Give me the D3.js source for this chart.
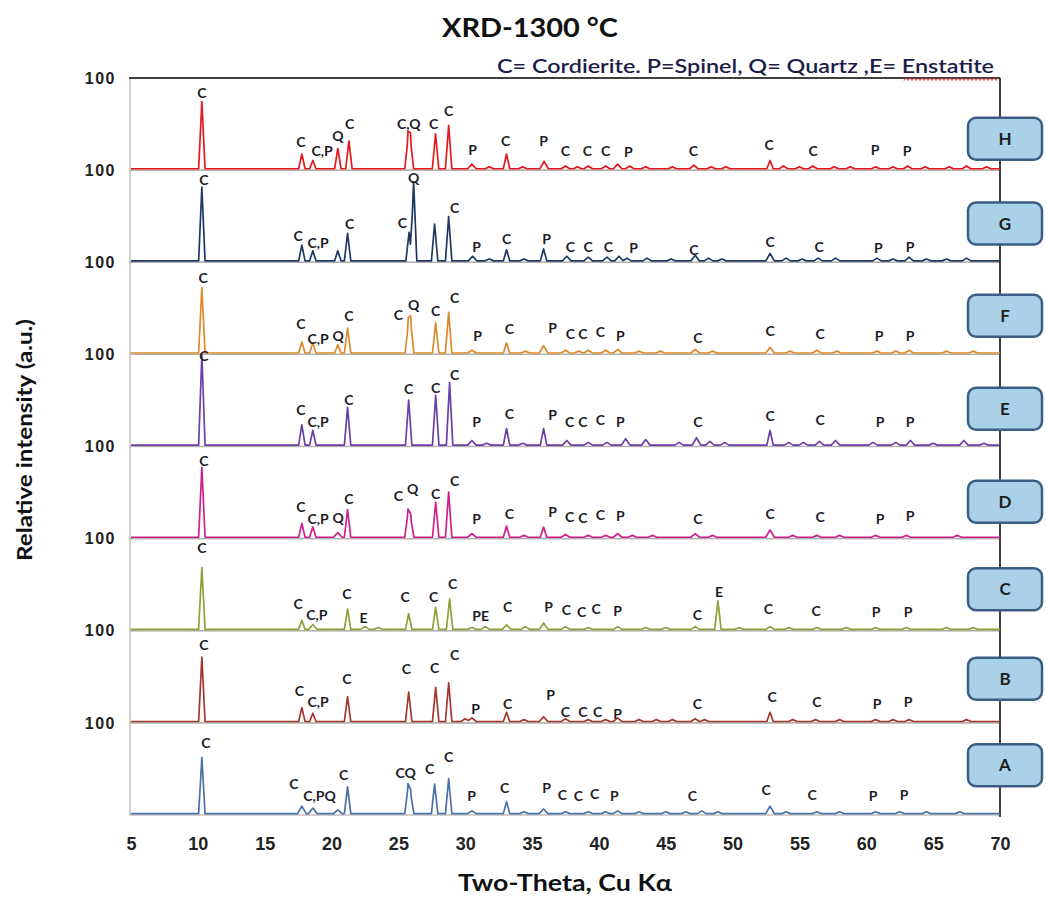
<!DOCTYPE html>
<html lang="en">
<head>
<meta charset="UTF-8">
<title>XRD-1300 °C</title>
<script src="https://d3js.org/d3.v7.min.js"></script>
<style>
  body { margin: 0; background: #fff; }
  svg { font-family: Lato, "Open Sans", "Liberation Sans", sans-serif; }
  .peak-label { font-size: 14px; font-weight: bold; fill: #1c1c28; text-anchor: middle; }
  .tick text { font-weight: bold; fill: #222; }
  .box-label { font-size: 17px; font-weight: bold; fill: #1e1e1e; text-anchor: middle; }
</style>
</head>
<body>
<svg width="1046" height="897"></svg>
<script>
// samples from top to bottom
const samples = ["H", "G", "F", "E", "D", "C", "B", "A"];
const sampleColors = ["#e3191f", "#1f3864", "#dc8a2c", "#6a3fa6", "#cf1f8c", "#8ba23a", "#a3362f", "#4a72a8"];
const xTicks = [5, 10, 15, 20, 25, 30, 35, 40, 45, 50, 55, 60, 65, 70];

// peaks: [2theta, relative intensity]
const peaksH = [[10.3, 73], [17.78, 16], [18.6, 9], [20.47, 22], [21.3, 30], [25.72, 33], [25.9, 31], [27.78, 38], [28.76, 47],
  [30.5, 5], [31.8, 2], [33.09, 16], [34.3, 2], [35.9, 8], [37.5, 3], [38.4, 2], [39.2, 3], [40.5, 3], [41.4, 5], [42.3, 3],
  [43.5, 2], [45.5, 2], [47.1, 4], [48.4, 2], [49.5, 2], [52.8, 9], [53.8, 3], [55, 2], [56, 3], [57.6, 2], [58.8, 2],
  [60.7, 2], [62, 2], [63.1, 3], [64.4, 2], [66.2, 2], [67.5, 3], [69, 2]];
const peaksG = [[10.3, 80], [17.78, 17], [18.6, 11], [20.47, 11], [21.2, 30], [25.8, 31], [26.14, 86], [27.71, 40], [28.76, 48],
  [30.55, 5], [31.8, 2], [33.09, 12], [34.4, 2], [35.86, 13], [37.6, 5], [39.2, 4], [40.6, 4], [41.5, 5], [42.1, 3], [43.6, 3],
  [45.4, 2], [47.2, 6], [48.2, 3], [49.2, 2], [52.8, 8], [54, 3], [55.2, 2], [56.4, 3], [57.7, 3], [60.8, 3], [62, 2],
  [63.2, 4], [64.5, 2], [66, 2], [67.5, 3]];
const peaksF = [[10.3, 71], [17.78, 12], [18.6, 11], [20.47, 9], [21.2, 27], [25.74, 30], [25.92, 33], [27.79, 33], [28.76, 44],
  [30.5, 3], [33.09, 11], [34.5, 2], [35.86, 8], [37.5, 3], [38.5, 2], [39.2, 3], [40.5, 3], [41.4, 4], [43, 2], [44.6, 2],
  [47.2, 4], [48.5, 2], [52.8, 6], [54.3, 2], [56.3, 3], [57.8, 2], [60.8, 2], [62.2, 2], [63.2, 3], [66, 2], [68, 2]];
const peaksE = [[10.3, 98], [17.78, 22], [18.6, 16], [21.2, 41], [25.77, 49], [27.79, 54], [28.83, 68], [30.5, 5], [31.6, 2],
  [33.09, 18], [34.3, 2], [35.86, 18], [37.6, 5], [39.2, 3], [40.6, 3], [42.0, 7], [43.5, 6], [46.0, 3], [47.3, 8],
  [48.3, 4], [49.4, 3], [52.8, 16], [54.2, 3], [55.3, 3], [56.5, 4], [57.7, 5], [60.5, 3], [62.2, 3], [63.3, 5],
  [65, 2], [67.3, 5], [68.8, 2]];
const peaksD = [[10.3, 76], [17.78, 15], [18.6, 11], [20.47, 5], [21.2, 30], [25.72, 27], [25.92, 21], [27.79, 38], [28.76, 49],
  [30.5, 4], [33.09, 12], [34.4, 2], [35.86, 11], [37.5, 3], [39.2, 2], [40.5, 2], [41.4, 4], [42.5, 2], [44, 2],
  [47.2, 4], [48.5, 2], [52.8, 8], [54.5, 2], [56.3, 2], [58, 2], [60.7, 2], [63, 2], [66.8, 2]];
const peaksC = [[10.3, 67], [17.78, 10], [18.6, 5], [21.2, 22], [22.5, 3], [23.5, 2], [25.77, 17], [27.79, 24], [28.83, 33],
  [30.5, 2], [31.5, 3], [33.09, 5], [34.5, 3], [35.86, 7], [37.5, 3], [39.2, 2], [41.4, 3], [43.5, 2], [45, 2],
  [47.2, 3], [48.9, 31], [50.5, 2], [52.8, 3], [54.2, 2], [56.3, 2], [58.5, 2], [60.7, 2], [63, 2], [66, 2], [68, 2]];
const peaksB = [[10.3, 70], [17.78, 15], [18.6, 9], [21.2, 27], [25.77, 32], [27.79, 37], [28.76, 42], [30.0, 3], [30.5, 4],
  [33.09, 10], [34.4, 2], [35.86, 5], [37.5, 3], [39.2, 2], [40.5, 2], [41.4, 4], [43, 2], [44.3, 2], [45.5, 2],
  [47.2, 3], [47.9, 2], [52.8, 10], [54.5, 2], [56.2, 2], [58, 2], [60.7, 2], [62, 2], [63.2, 2], [67.5, 2]];
const peaksA = [[10.3, 61], [17.78, 8], [18.6, 6], [20.47, 4], [21.2, 29], [25.72, 29], [25.92, 21], [27.71, 32], [28.76, 38],
  [30.5, 3], [33.09, 13], [34.4, 2], [35.86, 5], [37.5, 2], [39.2, 2], [40.5, 2], [41.4, 3], [43, 2], [45, 2],
  [46.5, 2], [47.7, 3], [48.9, 2], [52.8, 8], [54, 2], [56.3, 2], [58, 2], [60.7, 2], [62.5, 2], [64.5, 2], [67, 2]];

// phase labels: [2theta, text, level]
const labelsH = [[10.3, "C", 84], [17.7, "C", 30], [19.3, "C,P", 21], [20.47, "Q", 37], [21.36, "C", 50], [25.77, "C,Q", 50],
  [27.64, "C", 50], [28.76, "C", 64], [30.55, "P", 22], [33.02, "C", 32], [35.86, "P", 32], [37.5, "C", 21], [39.14, "C", 21],
  [40.5, "C", 21], [42.2, "P", 20], [47.06, "C", 21], [52.74, "C", 27], [56.03, "C", 21], [60.66, "P", 22], [63.05, "P", 21]];
const labelsG = [[10.45, "C", 89], [17.5, "C", 28], [19.0, "C,P", 21], [21.36, "C", 41], [25.3, "C", 43], [26.14, "Q", 91],
  [29.2, "C", 59], [30.85, "P", 16], [33.09, "C", 25], [36.08, "P", 25], [37.87, "C", 16], [39.2, "C", 16], [40.7, "C", 16],
  [42.6, "P", 15], [47.1, "C", 13], [52.81, "C", 22], [56.48, "C", 16], [60.9, "P", 15], [63.27, "P", 16]];
const labelsF = [[10.4, "C", 83], [17.7, "C", 33], [19.0, "C,P", 17], [20.5, "Q", 20], [21.29, "C", 42], [25.0, "C", 43],
  [26.14, "Q", 54], [27.79, "C", 47], [29.2, "C", 61], [30.92, "P", 20], [33.3, "C", 27], [36.53, "P", 28], [37.87, "C", 22],
  [38.8, "C", 22], [40.1, "C", 24], [41.6, "P", 20], [47.4, "C", 18], [52.81, "C", 25], [56.55, "C", 22], [60.96, "P", 20],
  [63.27, "P", 20]];
const labelsE = [[10.45, "C", 98], [17.7, "C", 39], [19.0, "C,P", 27], [21.29, "C", 50], [25.77, "C", 62], [27.79, "C", 63],
  [29.2, "C", 78], [30.85, "P", 27], [33.3, "C", 35], [36.53, "P", 34], [37.8, "C", 27], [38.8, "C", 27], [40.1, "C", 29],
  [41.6, "P", 27], [47.4, "C", 26], [52.81, "C", 33], [56.55, "C", 29], [61.03, "P", 27], [63.27, "P", 27]];
const labelsD = [[10.45, "C", 84], [17.7, "C", 34], [19.0, "C,P", 21], [20.5, "Q", 22], [21.29, "C", 43], [25.0, "C", 46],
  [26.07, "Q", 54], [27.79, "C", 48], [29.2, "C", 62], [30.85, "P", 21], [33.3, "C", 27], [36.53, "P", 29], [37.8, "C", 23],
  [38.8, "C", 22], [40.1, "C", 26], [41.6, "P", 24], [47.4, "C", 21], [52.81, "C", 27], [56.55, "C", 23], [61.03, "P", 21],
  [63.27, "P", 24]];
const labelsC = [[10.3, "C", 90], [17.5, "C", 29], [18.9, "C,P", 17], [21.14, "C", 40], [22.4, "E", 14], [25.5, "C", 37],
  [27.64, "C", 36], [29.06, "C", 51], [31.15, "PE", 16], [33.17, "C", 26], [36.23, "P", 26], [37.57, "C", 22], [38.7, "C", 20],
  [39.8, "C", 23], [41.4, "P", 21], [47.36, "C", 17], [48.99, "E", 42], [52.67, "C", 24], [56.25, "C", 21], [60.73, "P", 20],
  [63.12, "P", 20]];
const labelsB = [[10.45, "C", 84], [17.6, "C", 34], [19.0, "C,P", 23], [21.14, "C", 48], [25.6, "C", 58], [27.71, "C", 59],
  [29.2, "C", 74], [30.78, "P", 15], [33.17, "C", 20], [36.38, "P", 30], [37.5, "C", 12], [38.8, "C", 12], [39.9, "C", 12],
  [41.4, "P", 10], [47.36, "C", 20], [52.96, "C", 28], [56.3, "C", 23], [60.8, "P", 20], [63.12, "P", 23]];
const labelsA = [[10.6, "C", 78], [17.18, "C", 33], [19.1, "C,PQ", 21], [20.9, "C", 43], [25.55, "CQ", 46], [27.34, "C", 50],
  [28.76, "C", 63], [30.48, "P", 21], [32.94, "C", 29], [36.08, "P", 29], [37.27, "C", 22], [38.47, "C", 21], [39.67, "C", 23],
  [41.16, "P", 21], [46.99, "C", 20], [52.5, "C", 27], [55.95, "C", 22], [60.5, "P", 20], [62.83, "P", 22]];

const peaks = [peaksH, peaksG, peaksF, peaksE, peaksD, peaksC, peaksB, peaksA];
const labels = [labelsH, labelsG, labelsF, labelsE, labelsD, labelsC, labelsB, labelsA];

const svg = d3.select("svg");
const x = d3.scaleLinear().domain([5, 70]).range([131, 1000]);
const band = d3.scaleBand().domain(samples).range([78, 815]);
const base = 1.5;

// profile = baseline + sum of triangular peaks, evaluated at every corner point
function profile(list) {
  const halfWidth = h => (h < 9 ? 0.32 : 0.24);
  const corners = [5, 70];
  list.forEach(([t, h]) => corners.push(t - halfWidth(h), t, t + halfWidth(h)));
  corners.sort((a, b) => a - b);
  return corners.map(c => {
    let v = base;
    list.forEach(([t, h]) => {
      const w = halfWidth(h);
      v += Math.max(0, h * (1 - Math.abs(c - t) / w));
    });
    return [c, v];
  });
}

// panel frames first
samples.forEach(s => {
  svg.append("rect")
    .attr("x", x(5) - 1)
    .attr("y", band(s))
    .attr("width", x(70) - x(5) + 1)
    .attr("height", band.bandwidth())
    .attr("fill", "none")
    .attr("stroke", "#b4b0ac")
    .attr("stroke-width", 1.2);
});

// outer frame: black top and right
svg.append("line").attr("x1", x(5) - 2).attr("x2", x(70)).attr("y1", 78).attr("y2", 78)
  .attr("stroke", "#111").attr("stroke-width", 1.5);
svg.append("line").attr("x1", x(70)).attr("x2", x(70)).attr("y1", 78).attr("y2", 817)
  .attr("stroke", "#111").attr("stroke-width", 1.5);

samples.forEach((s, i) => {
  const top = band(s);
  const y = d3.scaleLinear().domain([0, 100]).range([top + band.bandwidth(), top]);
  const g = svg.append("g");

  g.append("path")
    .datum(profile(peaks[i]))
    .attr("fill", "none")
    .attr("stroke", sampleColors[i])
    .attr("stroke-width", 1.7)
    .attr("stroke-linejoin", "round")
    .attr("d", d3.line().x(d => x(d[0])).y(d => y(d[1])));

  g.selectAll(".peak-label")
    .data(labels[i])
    .enter()
    .append("text")
    .attr("class", "peak-label")
    .attr("x", d => x(d[0]))
    .attr("y", d => y(d[2]))
    .attr("dy", "0.35em")
    .text(d => d[1]);

  // "100" tick at the top of every panel
  const ax = svg.append("g")
    .attr("transform", `translate(${x(5) - 2},0)`)
    .call(d3.axisLeft(y).tickValues([100]).tickSize(0).tickPadding(13));
  ax.select(".domain").remove();
  ax.selectAll("text").style("font-size", "16px").style("letter-spacing", "1.5px");
});

// sample tags on the right
const boxLevel = [34, 42, 42, 41, 40, 45, 48, 54];
samples.forEach((s, i) => {
  const top = band(s);
  const y = d3.scaleLinear().domain([0, 100]).range([top + band.bandwidth(), top]);
  const cy = y(boxLevel[i]);
  svg.append("rect")
    .attr("x", 968).attr("y", cy - 21)
    .attr("width", 74).attr("height", 42)
    .attr("rx", 8)
    .attr("fill", "#a9d1e7")
    .attr("stroke", "#3a5f82")
    .attr("stroke-width", 2.5);
  svg.append("text")
    .attr("class", "box-label")
    .attr("x", 1005).attr("y", cy)
    .attr("dy", "0.35em")
    .text(s);
});

// x axis
const xAxis = svg.append("g")
  .attr("transform", "translate(0,815)")
  .call(d3.axisBottom(x).tickValues(xTicks).tickSize(0).tickPadding(22));
xAxis.select(".domain").remove();
xAxis.selectAll("text").style("font-size", "18px");

// titles
svg.append("text")
  .attr("x", 530).attr("y", 37)
  .attr("text-anchor", "middle")
  .attr("textLength", 176)
  .attr("lengthAdjust", "spacingAndGlyphs")
  .style("font-size", "26px").style("font-weight", "bold").style("fill", "#111")
  .text("XRD-1300 °C");

svg.append("text")
  .attr("x", 497).attr("y", 73)
  .attr("textLength", 497)
  .attr("lengthAdjust", "spacingAndGlyphs")
  .style("font-size", "19px").style("font-weight", "600").style("fill", "#1d1d4a")
  .text("C= Cordierite. P=Spinel, Q= Quartz ,E= Enstatite");

// spell-check squiggle under "Enstatite"
const squiggle = d3.range(904, 1000, 2).map((px, k) => [px, k % 2 ? 78 : 80.5]);
svg.append("path")
  .attr("d", d3.line()(squiggle))
  .attr("fill", "none").attr("stroke", "#e03030").attr("stroke-width", 1);

svg.append("text")
  .attr("x", 565).attr("y", 891)
  .attr("text-anchor", "middle")
  .attr("textLength", 214)
  .attr("lengthAdjust", "spacingAndGlyphs")
  .style("font-size", "23px").style("font-weight", "bold").style("fill", "#111")
  .text("Two-Theta, Cu Kα");

svg.append("text")
  .attr("transform", "translate(32,440) rotate(-90)")
  .attr("text-anchor", "middle")
  .attr("textLength", 242)
  .attr("lengthAdjust", "spacingAndGlyphs")
  .style("font-size", "21px").style("font-weight", "bold").style("fill", "#111")
  .text("Relative intensity (a.u.)");
</script>
</body>
</html>
